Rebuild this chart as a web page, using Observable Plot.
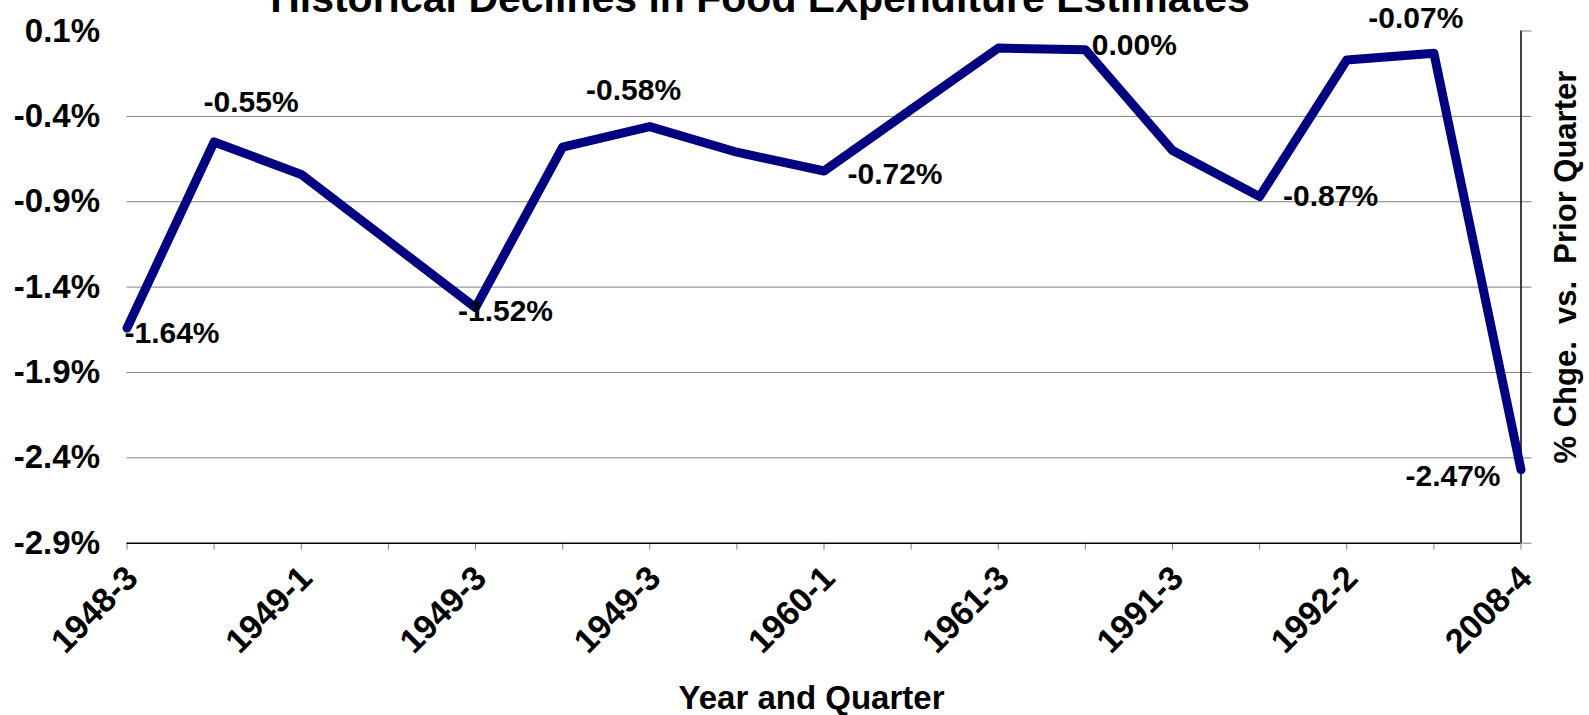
<!DOCTYPE html>
<html><head><meta charset="utf-8">
<script src="https://cdn.jsdelivr.net/npm/d3@7"></script>
<script src="https://cdn.jsdelivr.net/npm/@observablehq/plot@0.6"></script>
<style>
html,body{margin:0;padding:0;background:#fff;}
#chart{width:1589px;height:715px;overflow:hidden;}
</style></head><body><div id="chart"></div>
<script>
// ---- data ----
const tickLabels = ["1948-3","1949-1","1949-3","1949-3","1960-1","1961-3","1991-3","1992-2","2008-4"];
const values = [-1.64,-0.55,-0.74,-1.13,-1.52,-0.58,-0.46,-0.61,-0.72,-0.36,0.00,-0.01,-0.60,-0.87,-0.07,-0.03,-2.47];
const yTicks = [0.1,-0.4,-0.9,-1.4,-1.9,-2.4,-2.9];
const gridTicks = [-0.4,-0.9,-1.4,-1.9,-2.4];
const labelIndex = [0,1,4,5,8,11,13,15,16];
const labelText = ["-1.64%","-0.55%","-1.52%","-0.58%","-0.72%","0.00%","-0.87%","-0.07%","-2.47%"];
const titleText = "Historical Declines in Food Expenditure Estimates";
const xTitle = "Year and Quarter";
const yTitle = "% Chge.  vs.  Prior Quarter";

// ---- presentation ----
const labelOffsets = [[45,5],[37,-39.5],[30,4],[71,-57],[71,3],[49,-4],[71,0],[-18,-35],[-68,7]];
const idx = values.map((_, i) => i);
const pts = idx.map(i => ({i, v: values[i]}));
const tickRows = tickLabels.map((t, k) => ({i: k * 2, t}));
const labelRows = labelIndex.map((i, k) => ({i, v: values[i], t: labelText[k]}));

const FONT = "'Liberation Sans', Arial, Helvetica, sans-serif";

const chart = Plot.plot({
  width: 1589, height: 715,
  marginLeft: 126.5, marginRight: 68.5, marginTop: 30.5, marginBottom: 172.3,
  style: {fontFamily: FONT, background: "white", color: "black"},
  x: {type: "linear", domain: [0, 16]},
  y: {type: "linear", domain: [-2.9, 0.1]},
  marks: [
    Plot.gridY(gridTicks, {stroke: "#808080", strokeOpacity: 1, strokeWidth: 1}),
    Plot.axisY(yTicks, {anchor: "left", tickSize: 0, tickPadding: 27, label: null,
      tickFormat: d => d.toFixed(1) + "%", fontSize: 33, fontWeight: "bold"}),
    Plot.axisY(yTicks, {anchor: "right", tickSize: 10, tickFormat: () => "", label: null, stroke: "#808080"}),
    Plot.axisX(idx, {anchor: "bottom", tickSize: 7, tickFormat: () => "", label: null, stroke: "#808080"}),
    Plot.ruleY([-2.9], {stroke: "black", strokeWidth: 1.5}),
    Plot.ruleX([16], {stroke: "black", strokeWidth: 1.5}),
    Plot.text(tickRows, {x: "i", frameAnchor: "bottom", text: "t", rotate: -45, textAnchor: "end",
      lineAnchor: "bottom", dx: 13, dy: 37, fontSize: 34, fontWeight: "bold"}),
    Plot.line(pts, {x: "i", y: "v", stroke: "#000080", strokeWidth: 9, strokeLinejoin: "round", strokeLinecap: "round"}),
    ...labelRows.map((d, k) => Plot.text([d], {x: "i", y: "v", text: "t", textAnchor: "middle", lineAnchor: "middle",
      dx: labelOffsets[k][0], dy: labelOffsets[k][1], fontSize: 30, fontWeight: "bold"})),
    Plot.text([titleText], {frameAnchor: "top", text: d => d, lineAnchor: "bottom", dx: -64, dy: -19.5,
      fontSize: 41, fontWeight: "bold"}),
    Plot.text([xTitle], {frameAnchor: "bottom", text: d => d, lineAnchor: "bottom", dx: -12.5, dy: 165.5,
      fontSize: 33, fontWeight: "bold"}),
    Plot.text([yTitle], {frameAnchor: "right", text: d => d, rotate: -90, textAnchor: "middle", lineAnchor: "middle",
      dx: 45, dy: -20, fontSize: 31, fontWeight: "bold"})
  ]
});
document.getElementById("chart").appendChild(chart);
</script>
</body></html>
